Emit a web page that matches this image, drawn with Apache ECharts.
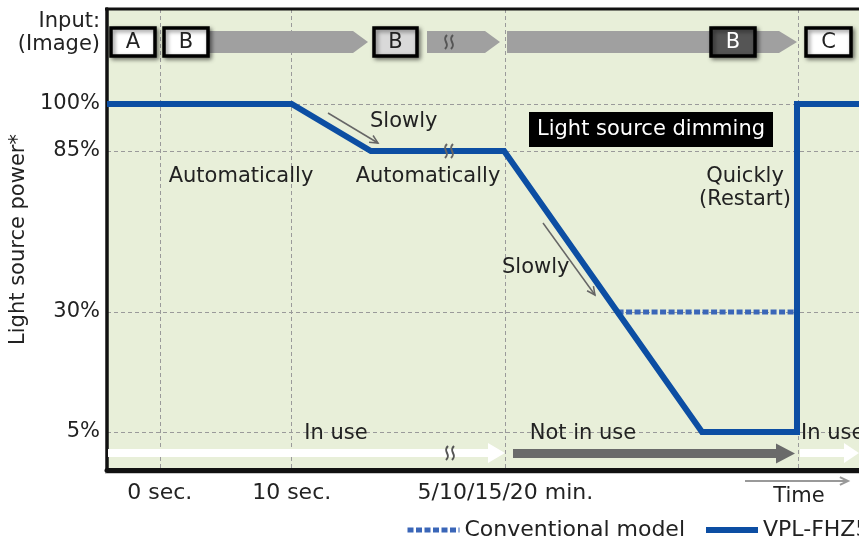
<!DOCTYPE html>
<html>
<head>
<meta charset="utf-8">
<script src="https://cdn.jsdelivr.net/npm/echarts@6/dist/echarts.min.js"></script>
<style>
  html, body { margin: 0; padding: 0; background: #fff; }
  #chart { width: 859px; height: 540px; }
</style>
</head>
<body>
<div id="chart"></div>
<script>
// ---- data ----
// time is schematic: 0 = "0 sec.", 10 = "10 sec.", ~26 = "5/10/15/20 min."
const newModelTime  = [-4, 10, 16, 26.1, 41.1, 48.3, 48.3, 53];
const newModelPower = [100, 100, 85, 85, 5, 5, 100, 100];
const convTime  = [34.7, 48.3];
const convPower = [30, 30];

const powerTicks = [5, 30, 85, 100];
const xTickValues = [0, 10, 26.2, 48.4];
const xTickLabels = ['0 sec.', '10 sec.', '5/10/15/20 min.', ''];

// the power axis of the sketch is not linear: each tick gets its own slot
const powerSlots = [0.824, 3.427, 6.92, 7.94];

function toSlot(p) {
    for (let i = 0; i < powerTicks.length - 1; i++) {
        if (p <= powerTicks[i + 1]) {
            const t = (p - powerTicks[i]) / (powerTicks[i + 1] - powerTicks[i]);
            return powerSlots[i] + t * (powerSlots[i + 1] - powerSlots[i]);
        }
    }
    return powerSlots[powerSlots.length - 1];
}

const FONT = 'DejaVu Sans';
const TXT = '#222';
const BLUE = '#0c4ea3';
const CONV = '#3a66b8';

// ---- helpers for the sketch decorations ----
function txt(text, x, y, size, align, color) {
    return {
        type: 'text', z: 20,
        style: {
            text: text, x: x, y: y, fill: color || TXT,
            fontFamily: FONT, fontSize: size || 21,
            align: align || 'center', verticalAlign: 'middle', lineHeight: 23
        }
    };
}

function box(x, y, w, h, label, fill, color) {
    return [
        {
            type: 'rect', z: 18,
            shape: { x: x, y: y, width: w, height: h },
            style: {
                fill: fill, stroke: '#000', lineWidth: 3.5,
                shadowBlur: 4, shadowOffsetX: 2, shadowOffsetY: 2, shadowColor: 'rgba(0,0,0,0.45)'
            }
        },
        txt(label, x + w / 2, y + h / 2 + 1, 21, 'center', color)
    ];
}

function blockArrow(x0, x1, head, yc, half, headHalf, color) {
    return {
        type: 'polygon', z: 15,
        shape: {
            points: [[x0, yc - half], [x1 - head, yc - half], [x1 - head, yc - headHalf], [x1, yc],
                     [x1 - head, yc + headHalf], [x1 - head, yc + half], [x0, yc + half]]
        },
        style: { fill: color }
    };
}

function lineArrow(x1, y1, x2, y2, color, width) {
    const a = Math.atan2(y2 - y1, x2 - x1);
    const L = 9, s = 0.45;
    return [
        { type: 'line', z: 20, shape: { x1: x1, y1: y1, x2: x2, y2: y2 }, style: { stroke: color, lineWidth: width } },
        {
            type: 'polyline', z: 20,
            shape: { points: [
                [x2 - L * Math.cos(a - s), y2 - L * Math.sin(a - s)],
                [x2, y2],
                [x2 - L * Math.cos(a + s), y2 - L * Math.sin(a + s)]
            ] },
            style: { stroke: color, lineWidth: width, fill: null }
        }
    ];
}

// the "break" mark: two small vertical S-curves
function wave(x, y, color) {
    return [-3, 3].map(function (dx) {
        const cx = x + dx;
        return {
            type: 'bezierCurve', z: 25,
            shape: { x1: cx + 1, y1: y - 7, cpx1: cx - 5, cpy1: y - 1, cpx2: cx + 5, cpy2: y + 1, x2: cx - 1, y2: y + 7 },
            style: { stroke: color, lineWidth: 2, fill: null }
        };
    });
}

const decorations = [].concat(
    // frame: top edge and shadow under the time axis
    [{ type: 'line', z: 30, shape: { x1: 105, y1: 9, x2: 859, y2: 9 }, style: { stroke: '#111', lineWidth: 3 } },
     { type: 'line', z: 30, shape: { x1: 105, y1: 473.5, x2: 859, y2: 473.5 }, style: { stroke: '#c8c8c8', lineWidth: 1 } }],
    // input row
    [txt('Input:', 100, 22, 21, 'right'), txt('(Image)', 100, 45, 21, 'right')],
    [blockArrow(205, 368, 15, 42, 11, 11, '#a0a0a0'),
     blockArrow(427, 500, 15, 42, 11, 11, '#a0a0a0'),
     blockArrow(507, 797, 18, 42, 11, 11, '#a0a0a0')],
    box(111, 28, 44, 28, 'A', '#fff'),
    box(164, 28, 44, 28, 'B', '#fff'),
    box(374, 28, 43, 28, 'B', '#d9d9d9'),
    box(711, 28, 44, 28, 'B', '#555', '#fff'),
    box(806, 28, 45, 28, 'C', '#fff'),
    wave(449, 42, '#555'),
    // usage row
    [blockArrow(108, 505, 17, 453, 4, 10, '#fff'),
     blockArrow(513, 795, 19, 453.5, 4.5, 10, '#6a6a6a'),
     blockArrow(800, 859, 15, 453, 4, 10, '#fff')],
    wave(450, 453, '#555'),
    wave(449, 151, '#666'),
    [txt('In use', 336, 434, 21), txt('Not in use', 583, 434, 21), txt('In use', 801, 434, 21, 'left')],
    // annotations
    [txt('Slowly', 370, 122, 21, 'left'), txt('Slowly', 502, 268, 21, 'left')],
    lineArrow(328, 113, 378, 143, '#666', 1.5),
    lineArrow(543, 223, 595, 295, '#666', 1.5),
    [txt('Automatically', 241, 177, 21), txt('Automatically', 428, 177, 21)],
    [{ type: 'rect', z: 18, shape: { x: 529, y: 112, width: 244, height: 35 }, style: { fill: '#000' } },
     txt('Light source dimming', 651, 130, 21, 'center', '#fff')],
    [txt('Quickly\n(Restart)', 745, 188, 21)],
    // time arrow
    lineArrow(745, 481, 848, 481, '#999', 2),
    [txt('Time', 799, 497, 21)]
);

const chart = echarts.init(document.getElementById('chart'));

function legendFor(name, left, width) {
    return {
        left: left, top: 514,
        itemWidth: 52, itemHeight: 14,
        textStyle: { fontSize: 22, color: TXT, fontFamily: FONT },
        itemStyle: { opacity: 0 },
        lineStyle: { width: width },
        data: [name]
    };
}

const option = {
    animation: false,
    textStyle: { fontFamily: FONT },
    grid: {
        left: 107, right: 0, top: 9, bottom: 70,
        show: true, backgroundColor: '#e8efd9', borderWidth: 0,
        containLabel: false, outerBoundsMode: 'none'
    },
    legend: [
        legendFor('Conventional model', 400, 5),
        legendFor('VPL-FHZ55', 698, 6)
    ],
    xAxis: {
        type: 'value', min: -4, max: 53,
        axisLine: { onZero: false, lineStyle: { color: '#111', width: 5 } },
        axisTick: { show: false, customValues: xTickValues },
        splitLine: { show: true, lineStyle: { color: '#9a9a9a', type: [4, 3], width: 1 } },
        axisLabel: {
            customValues: xTickValues, margin: 12,
            fontSize: 22, color: TXT, fontFamily: FONT,
            formatter: function (v) {
                const i = xTickValues.findIndex(function (t) { return Math.abs(t - v) < 1e-6; });
                return i >= 0 ? xTickLabels[i] : '';
            }
        }
    },
    yAxis: {
        type: 'value', min: 0, max: 10,
        name: 'Light source power*', nameLocation: 'middle', nameGap: 74,
        nameTextStyle: { fontSize: 21, color: TXT, fontFamily: FONT },
        axisLine: { show: true, onZero: false, lineStyle: { color: '#111', width: 3.5 } },
        axisTick: { show: false, customValues: powerSlots },
        splitLine: { show: true, lineStyle: { color: '#9a9a9a', type: [4, 3], width: 1 } },
        axisLabel: {
            customValues: powerSlots, margin: 7,
            fontSize: 21, color: TXT, fontFamily: FONT,
            formatter: function (v) {
                const i = powerSlots.findIndex(function (t) { return Math.abs(t - v) < 1e-6; });
                return i >= 0 ? powerTicks[i] + '%' : '';
            }
        }
    },
    series: [
        {
            name: 'Conventional model',
            type: 'line', symbol: 'none', z: 3,
            data: convTime.map(function (t, i) { return [t, toSlot(convPower[i])]; }),
            lineStyle: { color: CONV, width: 5, type: [6, 2.5] },
            itemStyle: { color: CONV }
        },
        {
            name: 'VPL-FHZ55',
            type: 'line', symbol: 'none', z: 4,
            data: newModelTime.map(function (t, i) { return [t, toSlot(newModelPower[i])]; }),
            lineStyle: { color: BLUE, width: 6, join: 'miter' },
            itemStyle: { color: BLUE }
        }
    ],
    graphic: { elements: decorations }
};

chart.setOption(option);
window.addEventListener('resize', chart.resize);
</script>
</body>
</html>
